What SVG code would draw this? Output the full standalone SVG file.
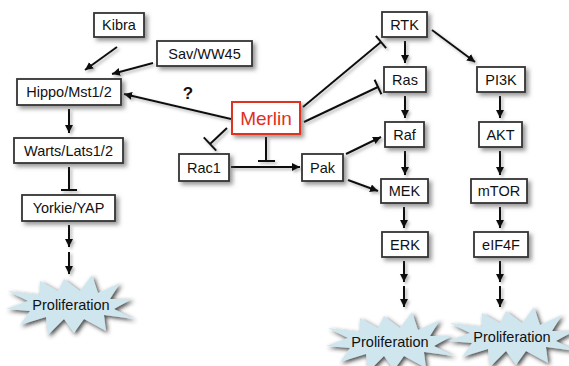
<svg xmlns="http://www.w3.org/2000/svg" width="569" height="366" viewBox="0 0 569 366">
<defs>
<filter id="sh" x="-20%" y="-30%" width="150%" height="170%">
<feDropShadow dx="3" dy="3" stdDeviation="2" flood-color="#555" flood-opacity="0.6"/>
</filter>
<filter id="lsh" x="-20%" y="-20%" width="150%" height="150%">
<feDropShadow dx="2" dy="2" stdDeviation="1.5" flood-color="#666" flood-opacity="0.5"/>
</filter>
<filter id="bsh" x="-20%" y="-30%" width="150%" height="170%">
<feDropShadow dx="2" dy="2" stdDeviation="2" flood-color="#333" flood-opacity="0.9"/>
</filter>
<marker id="ah" markerUnits="userSpaceOnUse" markerWidth="9" markerHeight="9" refX="8" refY="4" orient="auto">
<path d="M0,0 L8,4 L0,8 z" fill="#111"/>
</marker>
<polygon id="burst" points="62,-6 40,-6 50,-22 28,-12 22,-30 10,-14 -6,-26 -12,-14 -30,-24 -30,-10 -62,-14 -42,-4 -64,4 -40,6 -50,20 -24,12 -22,30 -6,14 4,28 14,14 36,26 34,10 64,14 44,4"/>
</defs>
<style>
.box{fill:#fff;stroke:#333;stroke-width:1.8;filter:url(#sh)}
.t{font-family:"Liberation Sans",Arial,sans-serif;font-size:14.5px;fill:#111;text-anchor:middle}
.c line{stroke:#111;stroke-width:2}
.a{marker-end:url(#ah)}
.bf{fill:#cfe6ee;filter:url(#bsh)}
</style>
<rect width="569" height="366" fill="#fff"/>
<g class="c" filter="url(#lsh)" id="connectors">
<line class="a" x1="117" y1="47" x2="85" y2="70"/>
<line class="a" x1="153" y1="63" x2="112" y2="74"/>
<line class="a" x1="69" y1="109" x2="69" y2="133"/>
<line x1="69" y1="167" x2="69" y2="190"/><line x1="61" y1="190" x2="77" y2="190"/>
<line class="a" x1="69" y1="225" x2="69" y2="247"/>
<line class="a" x1="69" y1="252" x2="69" y2="274"/>
<line class="a" x1="231" y1="119" x2="124" y2="94"/>
<line x1="227" y1="128" x2="210" y2="144"/><line x1="203.8" y1="137.4" x2="216.2" y2="150.6"/>
<line x1="266" y1="137" x2="266" y2="161"/><line x1="258" y1="161" x2="275" y2="161"/>
<line class="a" x1="231" y1="167" x2="300" y2="167"/>
<line x1="303" y1="107" x2="381" y2="42"/><line x1="375.9" y1="35.9" x2="386.1" y2="48.1"/>
<line x1="304" y1="122" x2="378" y2="87"/><line x1="374.6" y1="79.8" x2="381.4" y2="94.2"/>
<line class="a" x1="405" y1="41" x2="405" y2="63"/>
<line class="a" x1="432" y1="30" x2="475" y2="62"/>
<line class="a" x1="405" y1="96" x2="405" y2="118"/>
<line class="a" x1="500" y1="96" x2="500" y2="118"/>
<line class="a" x1="405" y1="151" x2="405" y2="175"/>
<line class="a" x1="500" y1="151" x2="500" y2="175"/>
<line class="a" x1="346" y1="154" x2="381" y2="137"/>
<line class="a" x1="348" y1="180" x2="378" y2="191"/>
<line class="a" x1="404" y1="207" x2="404" y2="228"/>
<line class="a" x1="500" y1="207" x2="500" y2="228"/>
<line class="a" x1="404" y1="261" x2="404" y2="282"/>
<line class="a" x1="404" y1="286" x2="404" y2="307"/>
<line class="a" x1="500" y1="261" x2="500" y2="282"/>
<line class="a" x1="500" y1="286" x2="500" y2="307"/>
</g>
<text x="188" y="99" font-family="Liberation Sans,Arial,sans-serif" font-size="17" font-weight="bold" fill="#111" text-anchor="middle">?</text>
<g id="kibra"><rect class="box" x="94" y="13" width="50" height="24"/><text class="t" x="119" y="30">Kibra</text></g>
<g id="sav"><rect class="box" x="157" y="41" width="95" height="25"/><text class="t" x="204.5" y="58.5">Sav/WW45</text></g>
<g id="hippo"><rect class="box" x="17" y="79" width="104" height="26"/><text class="t" x="69" y="97">Hippo/Mst1/2</text></g>
<g id="warts"><rect class="box" x="14" y="138" width="109" height="25"/><text class="t" x="68.5" y="155.5">Warts/Lats1/2</text></g>
<g id="yorkie"><rect class="box" x="22" y="195" width="93" height="26"/><text class="t" x="68.5" y="213">Yorkie/YAP</text></g>
<g id="merlin"><rect x="232" y="102" width="68" height="32" fill="#fff" stroke="#e0301e" stroke-width="2" filter="url(#sh)"/><text x="266" y="125" font-family="Liberation Sans,Arial,sans-serif" font-size="19" fill="#e0301e" text-anchor="middle">Merlin</text></g>
<g id="rac1"><rect class="box" x="179" y="154" width="50" height="27"/><text class="t" x="204" y="172.5">Rac1</text></g>
<g id="pak"><rect class="box" x="302" y="154" width="41" height="27"/><text class="t" x="322.5" y="172.5">Pak</text></g>
<g id="rtk"><rect class="box" x="382" y="12" width="45" height="25"/><text class="t" x="404.5" y="29.5">RTK</text></g>
<g id="ras"><rect class="box" x="384" y="67" width="42" height="25"/><text class="t" x="405" y="84.5">Ras</text></g>
<g id="raf"><rect class="box" x="385" y="122" width="39" height="25"/><text class="t" x="404.5" y="139.5">Raf</text></g>
<g id="mek"><rect class="box" x="381" y="179" width="47" height="24"/><text class="t" x="404.5" y="196">MEK</text></g>
<g id="erk"><rect class="box" x="382" y="232" width="46" height="25"/><text class="t" x="405" y="249.5">ERK</text></g>
<g id="pi3k"><rect class="box" x="477" y="67" width="48" height="25"/><text class="t" x="501" y="84.5">PI3K</text></g>
<g id="akt"><rect class="box" x="479" y="122" width="43" height="25"/><text class="t" x="500.5" y="139.5">AKT</text></g>
<g id="mtor"><rect class="box" x="471" y="179" width="56" height="24"/><text class="t" x="499" y="196">mTOR</text></g>
<g id="eif4f"><rect class="box" x="474" y="232" width="54" height="25"/><text class="t" x="501" y="249.5">eIF4F</text></g>
<g id="prolif1"><use href="#burst" class="bf" transform="translate(70,305)"/><text class="t" x="71" y="310">Proliferation</text></g>
<g id="prolif2"><use href="#burst" class="bf" transform="translate(390,342)"/><text class="t" x="390" y="347">Proliferation</text></g>
<g id="prolif3"><use href="#burst" class="bf" transform="translate(512,337)"/><text class="t" x="512" y="342">Proliferation</text></g>
</svg>
